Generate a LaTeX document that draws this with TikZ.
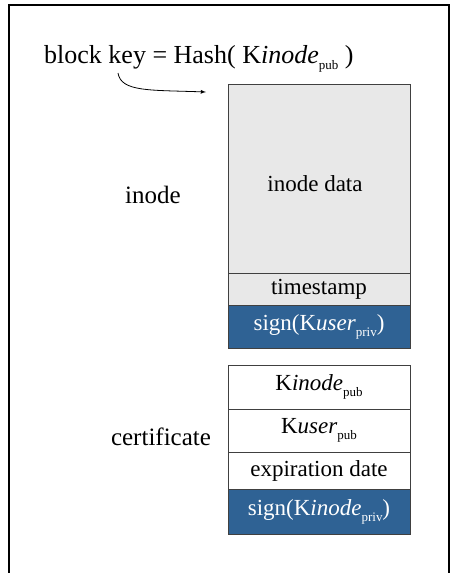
\documentclass[tikz,border=0pt]{standalone}
\usepackage{fontspec}
\setmainfont{Liberation Serif}
\usetikzlibrary{positioning}

\definecolor{cellgray}{RGB}{232,232,232}
\definecolor{signblue}{RGB}{47,98,148}
\newcommand{\keysub}[1]{\raisebox{-0.55ex}{\fontsize{13}{13}\selectfont #1}}

\begin{document}
\begin{tikzpicture}[x=1pt, y=-1pt,
    cell/.style={draw=black!75, line width=0.8pt, minimum width=182pt, inner sep=0pt, outer sep=0pt,
        font=\fontsize{23}{27}\selectfont},
    signcell/.style={cell, fill=signblue, text=white},
    celltext/.style={font=\fontsize{23}{27}\selectfont, inner sep=0pt},
    bigtext/.style={font=\fontsize{25}{29}\selectfont, inner sep=0pt}]
    \useasboundingbox (0,0) rectangle (453,573);
    \draw [line width=2pt] (9,573) -- (9,5) -- (449,5) -- (449,573);
    % inode block
    \node [cell, fill=cellgray, minimum height=189pt, anchor=north west] (data) at (228,84) {};
    \node [cell, fill=cellgray, minimum height=32pt, below=0pt of data] (stamp) {timestamp};
    \node [signcell, minimum height=43pt, below=0pt of stamp] (usersig) {sign(K\textit{user}\keysub{priv})};
    \node [celltext] at (315,184) (datalabel) {inode data};
    \node [bigtext] at (153,195) (inodelabel) {inode};
    % certificate
    \node [cell, minimum height=44pt, anchor=north west] (kinode) at (228,365) {K\textit{inode}\keysub{pub}};
    \node [cell, minimum height=43pt, below=0pt of kinode] (kuser) {K\textit{user}\keysub{pub}};
    \node [cell, minimum height=37pt, below=0pt of kuser] (expiry) {expiration date};
    \node [signcell, minimum height=45pt, below=0pt of expiry] (inodesig) {sign(K\textit{inode}\keysub{priv})};
    \node [bigtext] at (161,437) (certlabel) {certificate};
    % block key
    \node [font=\fontsize{26}{30}\selectfont, inner sep=0pt, anchor=base west] at (44,63) (blockkey)
        {block key = Hash( K\textit{inode}\keysub{pub} )};
    \coordinate (arrowstart) at (118,73);
    \coordinate (arrowend) at (206,92);
    \draw [->, >=latex, line width=0.8pt] (arrowstart) .. controls (121,92) and (150,90) .. (arrowend);
\end{tikzpicture}
\end{document}
